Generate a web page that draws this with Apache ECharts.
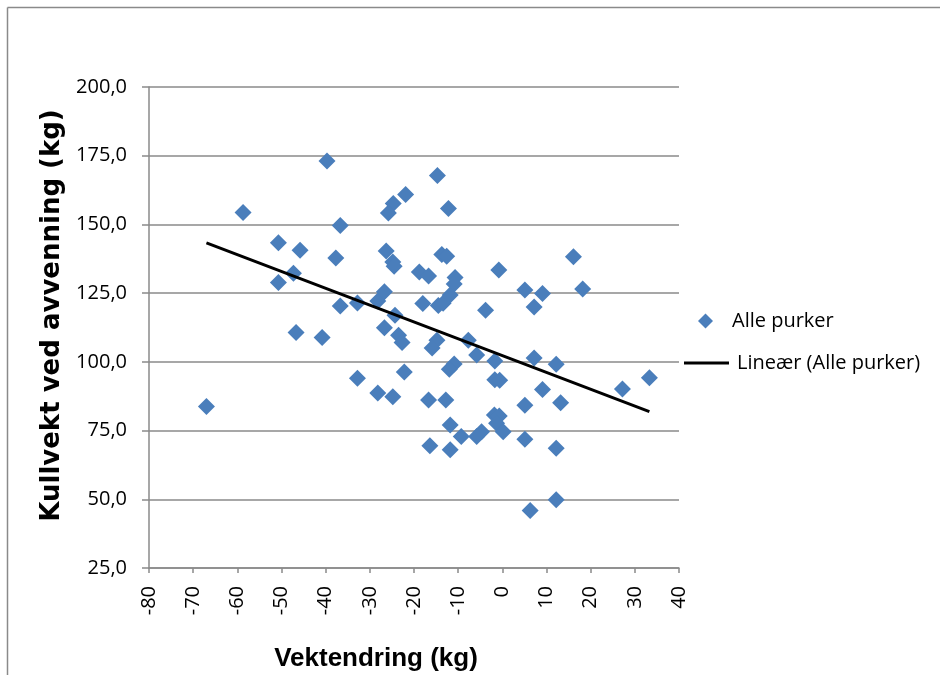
<!DOCTYPE html>
<html>
<head>
<meta charset="utf-8">
<script src="https://cdn.jsdelivr.net/npm/echarts@6/dist/echarts.min.js"></script>
<style>
html,body{margin:0;padding:0;background:#fff;}
#chart{width:940px;height:675px;}
</style>
</head>
<body>
<div id="chart"></div>
<script>
// Weight change (kg) for each sow
const vektendring = [
  -67.0, -58.7, -50.7, -50.7, -45.8, -47.3, -46.7, -40.8, -39.7, -36.7,
  -37.7, -36.7, -32.8, -32.8, -28.2, -26.7, -21.9, -24.7, -25.8, -26.3,
  -24.8, -24.5, -24.3, -26.7, -23.5, -22.7, -22.2, -28.2, -24.8, -18.8,
  -18.0, -14.7, -12.2, -13.7, -12.6, -16.7, -0.8, 16.1, -10.7, -10.9,
  5.1, 9.1, 18.2, -14.5, -13.4, -11.8, 7.2, -3.8, -14.8, -15.9,
  -7.7, -5.8, -1.7, 7.2, 12.2, -10.9, -12.0, -1.7, -0.6, 9.1,
  27.2, 33.3, -16.7, -12.8, 5.1, 13.2, -1.8, -0.7, -1.3, 0.2,
  -11.8, -9.3, -5.8, -4.7, 5.1, 12.2, -16.4, -11.8, 12.2, 6.3
];
// Litter weight at weaning (kg) for each sow
const kullvekt = [
  83.8, 154.3, 143.3, 128.9, 140.6, 132.2, 110.7, 108.9, 173.1, 149.6,
  137.8, 120.3, 121.4, 94.0, 122.1, 125.5, 160.9, 157.6, 154.2, 140.3,
  136.3, 134.8, 117.0, 112.4, 109.7, 107.0, 96.3, 88.7, 87.3, 132.7,
  121.2, 167.8, 155.8, 139.1, 138.4, 131.2, 133.4, 138.2, 130.7, 128.3,
  126.1, 124.9, 126.5, 120.5, 121.3, 124.3, 120.0, 118.8, 107.9, 105.0,
  107.9, 102.5, 100.3, 101.4, 99.1, 99.2, 97.3, 93.5, 93.3, 89.9,
  90.1, 94.2, 86.1, 86.1, 84.2, 85.1, 80.7, 80.3, 77.7, 74.6,
  77.0, 72.8, 72.8, 74.6, 71.8, 68.6, 69.5, 68.0, 49.8, 45.9
];
// Linear trend line end points
const trendX = [-67.0, 33.3];
const trendY = [143.3, 81.9];

const seriesNames = ['Alle purker', 'Lineær (Alle purker)'];
const xTitle = 'Vektendring (kg)';
const yTitle = 'Kullvekt ved avvenning (kg)';

const scatterData = vektendring.map((v, i) => [v, kullvekt[i]]);
const trendData = trendX.map((v, i) => [v, trendY[i]]);

const chart = echarts.init(document.getElementById('chart'), null, {renderer: 'canvas'});
const gray = '#8a8a8a';
const tickFont = {fontFamily: 'Open Sans', fontSize: 20, color: '#000'};

chart.setOption({
  backgroundColor: '#fff',
  animation: false,
  graphic: [
    {type: 'line', shape: {x1: 7.5, y1: 7.5, x2: 940, y2: 7.5}, style: {stroke: gray, lineWidth: 1.5}},
    {type: 'line', shape: {x1: 7.5, y1: 7.5, x2: 7.5, y2: 675}, style: {stroke: gray, lineWidth: 1.5}}
  ],
  grid: {left: 149, top: 87, width: 530, height: 481, containLabel: false, outerBoundsMode: 'none'},
  legend: [
    {
      data: [{name: seriesNames[0], icon: 'diamond'}],
      orient: 'vertical', left: 693, top: 306,
      itemWidth: 15, itemHeight: 15,
      textStyle: {fontFamily: 'Open Sans', fontSize: 20, color: '#000', padding: [0, 0, 0, 14]},
      selectedMode: false
    },
    {
      data: [{name: seriesNames[1], icon: 'rect'}],
      orient: 'vertical', left: 679, top: 348,
      itemWidth: 45, itemHeight: 3,
      textStyle: {fontFamily: 'Open Sans', fontSize: 20, color: '#000', padding: [0, 0, 0, 3]},
      selectedMode: false
    }
  ],
  xAxis: {
    type: 'value', min: -80, max: 40, interval: 10,
    name: xTitle, nameLocation: 'middle', nameGap: 78,
    nameTextStyle: {fontFamily: 'Liberation Sans', fontWeight: 'bold', fontSize: 26, color: '#000', padding: [0, 76, 0, 0]},
    axisLine: {show: true, onZero: false, lineStyle: {color: gray, width: 1.5}},
    axisTick: {show: true, length: 5, lineStyle: {color: gray, width: 1.5}},
    axisLabel: Object.assign({rotate: 90, margin: 18}, tickFont),
    splitLine: {show: false}
  },
  yAxis: {
    type: 'value', min: 25, max: 200, interval: 25,
    name: yTitle, nameLocation: 'middle', nameGap: 82, nameRotate: 90,
    nameTextStyle: {fontFamily: 'DejaVu Sans', fontWeight: 'bold', fontSize: 26, color: '#000', padding: [0, 0, 0, 24]},
    axisLine: {show: true, onZero: false, lineStyle: {color: gray, width: 1.5}},
    axisTick: {show: true, length: 7, lineStyle: {color: gray, width: 1.5}},
    axisLabel: Object.assign({margin: 22, formatter: v => v.toFixed(1).replace('.', ',')}, tickFont),
    splitLine: {show: true, lineStyle: {color: gray, width: 1.5}}
  },
  series: [
    {
      name: seriesNames[0], type: 'scatter', data: scatterData,
      symbol: 'diamond', symbolSize: 17,
      itemStyle: {color: '#4a7ebb', opacity: 1}
    },
    {
      name: seriesNames[1], type: 'line', data: trendData,
      showSymbol: false, symbol: 'none',
      lineStyle: {color: '#000', width: 3},
      itemStyle: {color: '#000'}
    }
  ]
});
</script>
</body>
</html>
